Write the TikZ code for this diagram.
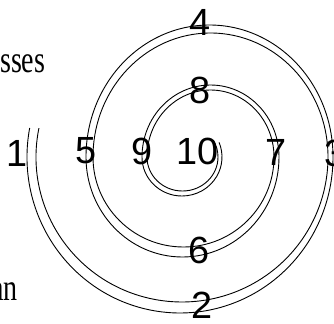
\documentclass[tikz,border=0pt]{standalone}
\usepackage{fontspec}
\newfontfamily\numfont{Liberation Sans}
\newfontfamily\wordfont[FakeStretch=0.74]{Liberation Serif}
\begin{document}
\begin{tikzpicture}[
  x=1bp,y=-1bp,
  num/.style={font=\numfont\fontsize{38}{38}\selectfont,inner sep=0pt},
  word/.style={font=\wordfont\fontsize{38}{38}\selectfont,inner sep=0pt},
  spiral/.style={line width=0.9bp,black}
]
\useasboundingbox (0,0) rectangle (334,324);
\clip (0,0) rectangle (334,324);

\node[word,anchor=base west] (sses) at (0,72) {sses};
\node[word,anchor=base east] (an) at (18,300) {an};

\node[num] (n1) at (17.5,153) {1};
\node[num] (n2) at (202,305) {2};
\node[num] (n3) at (335,153) {3};
\node[num] (n4) at (200,22) {4};
\node[num] (n5) at (86,151) {5};
\node[num] (n6) at (199,250) {6};
\node[num] (n7) at (276,152) {7};
\node[num] (n8) at (200,90) {8};
\node[num] (n9) at (142,151) {9};
\node[num] (n10) at (197.5,151) {10};

% outer line of the band
\draw[spiral] ([shift={(180,157)}]190.71:153 and 156)
  arc[start angle=190.71,end angle=0,x radius=153,y radius=156]
  arc[start angle=360,end angle=180,x radius=123.5,y radius=132]
  arc[start angle=180,end angle=0,x radius=96.5,y radius=100]
  arc[start angle=360,end angle=180,x radius=68.5,y radius=72]
  arc[start angle=180,end angle=-22,x radius=40,y radius=39];
% inner line of the band
\draw[spiral] ([shift={(182,157)}]191.5:146 and 145)
  arc[start angle=191.5,end angle=0,x radius=146,y radius=145]
  arc[start angle=360,end angle=180,x radius=117.5,y radius=124]
  arc[start angle=180,end angle=0,x radius=90.5,y radius=90]
  arc[start angle=360,end angle=180,x radius=63.5,y radius=67]
  arc[start angle=180,end angle=-30,x radius=35.5,y radius=34];
\end{tikzpicture}
\end{document}
